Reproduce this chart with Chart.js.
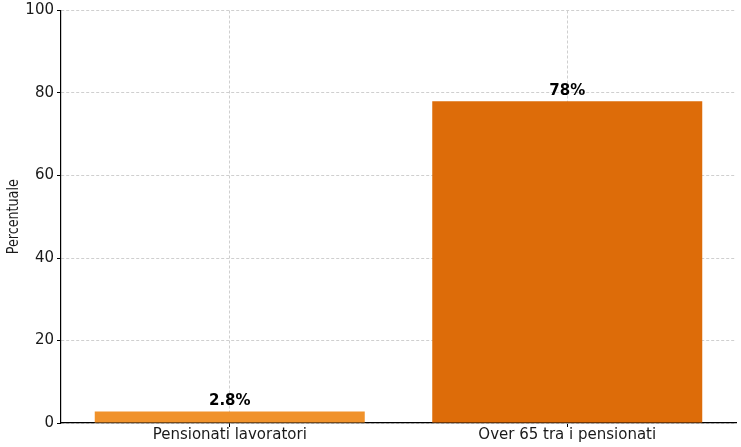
<html>
  <head>
    <title>Pensionati</title>
    <style>
      body { margin: 0; background: white; }
      #wrap { width: 741px; height: 447px; }
    </style>
  </head>
  <body>
    <div id="wrap"><canvas id="myChart"></canvas></div>
    <script src="https://cdn.jsdelivr.net/npm/chart.js@4/dist/chart.umd.min.js"></script>
    <script>
      const categories = ['Pensionati lavoratori', 'Over 65 tra i pensionati'];
      const values = [2.8, 78];
      const valueLabels = ['2.8%', '78%'];
      const barColors = ['#f0922b', '#dd6c09'];
      const yTicks = [0, 20, 40, 60, 80, 100];
      const yTitle = 'Percentuale';

      // draws the % labels above each bar
      const barLabels = {
        id: 'barLabels',
        afterDraw(chart) {
          const ctx = chart.ctx;
          const meta = chart.getDatasetMeta(0);
          ctx.save();
          ctx.font = 'bold 15px "DejaVu Sans"';
          ctx.fillStyle = '#000';
          ctx.textAlign = 'center';
          ctx.textBaseline = 'alphabetic';
          meta.data.forEach((bar, i) => {
            ctx.fillText(valueLabels[i], bar.x, bar.y - 6);
          });
          ctx.restore();
        }
      };

      // y title, narrow like the original
      const yTitlePlugin = {
        id: 'yTitlePlugin',
        afterDraw(chart) {
          const ctx = chart.ctx;
          const area = chart.chartArea;
          ctx.save();
          ctx.translate(14, (area.top + area.bottom) / 2);
          ctx.rotate(-Math.PI / 2);
          ctx.font = '16px "DejaVu Sans"';
          const w = ctx.measureText(yTitle).width;
          ctx.scale(75 / w, 1);
          ctx.fillStyle = '#1a1a1a';
          ctx.textAlign = 'center';
          ctx.textBaseline = 'middle';
          ctx.fillText(yTitle, 0, 0);
          ctx.restore();
        }
      };

      const gridCommon = {
        color: '#cfcfcf',
        tickColor: '#000',
        tickBorderDash: [],
        tickLength: 4
      };

      new Chart(document.getElementById('myChart'), {
        type: 'bar',
        data: {
          labels: categories,
          datasets: [{
            data: values,
            backgroundColor: barColors,
            barPercentage: 0.8,
            categoryPercentage: 1.0
          }]
        },
        options: {
          responsive: true,
          maintainAspectRatio: false,
          animation: false,
          layout: { padding: { top: 10, right: 5, left: 0, bottom: 0 } },
          plugins: {
            legend: { display: false },
            tooltip: { enabled: false }
          },
          scales: {
            x: {
              z: 1,
              offset: true,
              grid: Object.assign({ offset: false }, gridCommon),
              border: { color: '#000', width: 1.2, dash: [3, 2] },
              ticks: {
                color: '#1a1a1a',
                font: { family: 'DejaVu Sans', size: 15, lineHeight: 1 },
                padding: 1
              },
              afterFit(scale) { scale.height = 24; }
            },
            y: {
              z: 1,
              min: 0,
              max: 100,
              afterBuildTicks(scale) { scale.ticks = yTicks.map(v => ({ value: v })); },
              grid: gridCommon,
              border: { color: '#000', width: 1.2, dash: [3, 2] },
              ticks: {
                color: '#1a1a1a',
                font: { family: 'DejaVu Sans', size: 15, lineHeight: 1 },
                padding: 3
              },
              afterFit(scale) { scale.width = 61; }
            }
          }
        },
        plugins: [barLabels, yTitlePlugin]
      });
    </script>
  </body>
</html>
